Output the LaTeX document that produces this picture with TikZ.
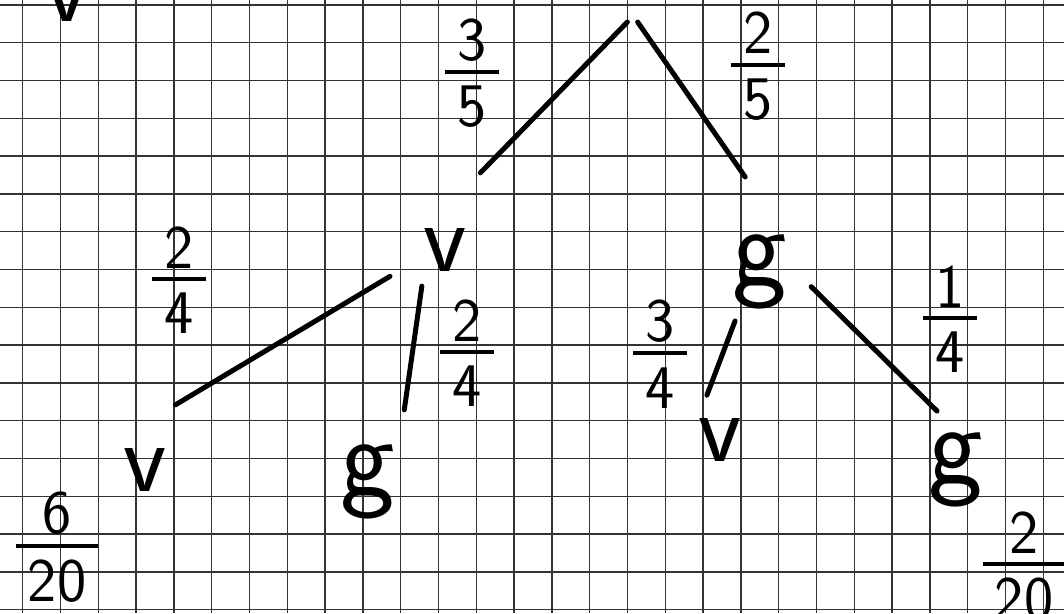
\documentclass[tikz,border=0pt]{standalone}
\usepackage{tikz}
\usetikzlibrary{positioning}

% fraction written as number over a thick bar over number
\newcommand{\pfrac}[2]{\vbox{\halign{\hfil\kern12pt##\kern12pt\hfil\cr #1\cr
  \noalign{\kern9pt\hrule height 4pt\kern12pt}#2\cr}}}

\tikzset{
  gridline/.style={black!80, line width=1.5pt},
  branch/.style={line width=5pt, line cap=round},
  letter/.style={circle, minimum size=110pt, inner sep=0pt, outer sep=0pt, font=\sffamily\fontsize{100}{100}\selectfont},
  letterg/.style={letter, font=\sffamily\fontsize{116}{116}\selectfont},
  prob/.style={inner sep=0pt, font=\sffamily\fontsize{62}{62}\selectfont},
}

\begin{document}
\begin{tikzpicture}[x=1pt, y=-1pt]
    \useasboundingbox (0,0) rectangle (1064,613);
    \clip (0,0) rectangle (1064,613);
    \fill[white] (0,0) rectangle (1064,613);

    % squared paper
    \foreach \i in {0,...,27}
      \draw[gridline] ({22.7+37.8*\i},0) -- ++(0,613);
    \foreach \j in {0,...,16}
      \draw[gridline] (0,{4.9+37.8*\j}) -- ++(1064,0);

    % leftover letter at the top edge
    \node[letter] (vtop) at (67,0) {v};

    % root and first draw
    \node[circle, minimum size=24pt, inner sep=0pt] (root) at (632.5,11) {};
    \node[letter] (v1) at (445,250) {v};
    \node[letterg] (g1) at (760,272) {g};

    % second draw
    \node[letter] (vl) at (145,470) {v};
    \node[letterg] (gm) at (368,482) {g};
    \node[letter] (vr) at (720,440) {v};
    \node[letterg] (gr) at (956,470) {g};

    % branches
    \draw[branch, shorten >=33pt] (root.-115) -- (v1.77);
    \draw[branch, shorten >=51pt] (root.-65) -- (g1.75);
    \draw[branch, shorten <=6pt, shorten >=22pt] (v1.205) -- (vl.78);
    \draw[branch, shorten <=-13pt, shorten >=28pt] (v1.243) -- (gm.54);
    \draw[branch, shorten >=-10pt] (g1.243) -- (vr.100);
    \draw[branch, shorten <=-2pt, shorten >=8pt] (g1.-17) -- (gr.104);

    % probabilities on the branches
    \node[prob] (p35) at (472,73) {\pfrac{3}{5}};
    \node[prob] (p25) at (758,66) {\pfrac{2}{5}};
    \node[prob] (pvv) at (179,280) {\pfrac{2}{4}};
    \node[prob] (pvg) at (467,353) {\pfrac{2}{4}};
    \node[prob] (pgv) at (660,354) {\pfrac{3}{4}};
    \node[prob] (pgg) at (950,319) {\pfrac{1}{4}};

    % results at the leaves
    \node[prob] (p620) at (57,547) {\pfrac{6}{20}};
    \node[prob] (p220) at (1024,566) {\pfrac{2}{20}};
  \end{tikzpicture}
\end{document}
